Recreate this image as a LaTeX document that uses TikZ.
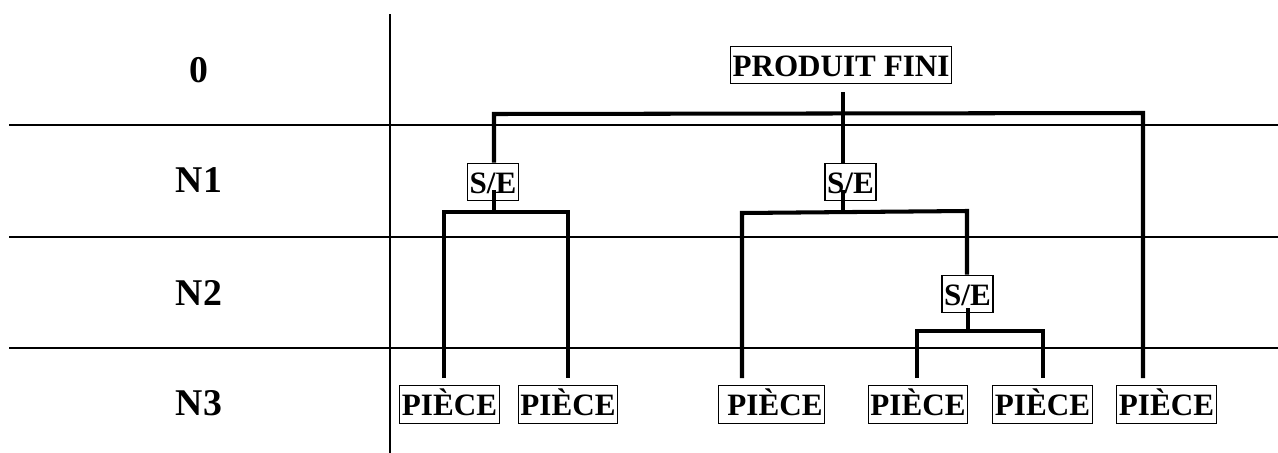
\documentclass[tikz,border=0pt]{standalone}
\usepackage{fontspec}
\setmainfont{Liberation Serif}
\begin{document}
\begin{tikzpicture}[x=0.02cm,y=-0.02cm]
\tikzset{
  box/.style={draw, line width=0.75pt, inner sep=0pt, inner xsep=1.3pt,
    text height=0.6cm, text depth=0.15cm,
    font=\fontsize{17.7}{20}\selectfont\bfseries},
  levellabel/.style={anchor=base, font=\fontsize{21.5}{24}\selectfont\bfseries},
  gridline/.style={line width=1.1pt},
  link/.style={line width=2.3pt, line join=miter},
}
\useasboundingbox (0,0) rectangle (1278,453);

% level table
\coordinate (vtop) at (390,14);
\coordinate (vbot) at (390,453);
\coordinate (r1a) at (9,125);  \coordinate (r1b) at (1278,125);
\coordinate (r2a) at (9,237);  \coordinate (r2b) at (1278,237);
\coordinate (r3a) at (9,348);  \coordinate (r3b) at (1278,348);
\draw[gridline] (vtop) -- (vbot);
\draw[gridline] (r1a) -- (r1b);
\draw[gridline] (r2a) -- (r2b);
\draw[gridline] (r3a) -- (r3b);

\node[levellabel] (l0) at (199,82) {0};
\node[levellabel] (l1) at (199,192) {N1};
\node[levellabel] (l2) at (199,305) {N2};
\node[levellabel] (l3) at (199,415) {N3};

% boxes
\node[box] (pf) at (841,65) {PRODUIT FINI};
\node[box] (se1) at (493,182) {S/E};
\node[box] (se2) at (850.5,182) {S/E};
\node[box] (se3) at (967.5,294) {S/E};
\node[box] (p1) at (449.5,404.5) {PIÈCE};
\node[box] (p2) at (568,404.5) {PIÈCE};
\node[box] (p3) at (771.5,404.5) {\hspace{0.14cm}PIÈCE};
\node[box] (p4) at (918,404.5) {PIÈCE};
\node[box] (p5) at (1042.5,404.5) {PIÈCE};
\node[box] (p6) at (1166.5,404.5) {PIÈCE};

% junction points of the tree
\coordinate (pfs) at (843,92);
\coordinate (ta) at (494,114);
\coordinate (tb) at (1143,113);
\coordinate (p6t) at (1143,378);

\coordinate (s1a) at (494,190);
\coordinate (s1b) at (494,212);
\coordinate (la) at (444,212);  \coordinate (lb) at (568,212);
\coordinate (p1t) at (444,378); \coordinate (p2t) at (568,378);

\coordinate (s2a) at (843,190);
\coordinate (s2b) at (843,212);
\coordinate (ma) at (742,213);  \coordinate (mb) at (967,211);
\coordinate (p3t) at (742,378);

\coordinate (s3a) at (968,308);
\coordinate (s3b) at (968,331);
\coordinate (na) at (917,331);  \coordinate (nb) at (1043,331);
\coordinate (p4t) at (917,378); \coordinate (p5t) at (1043,378);

% tree connectors
\draw[link] (pfs) -- (pfs |- se2.north);
\draw[link] (ta |- se1.north) -- (ta) -- (tb) -- (p6t);

\draw[link] (s1a) -- (s1b);
\draw[link] (p1t) -- (la) -- (lb) -- (p2t);

\draw[link] (s2a) -- (s2b);
\draw[link] (p3t) -- (ma) -- (mb) -- (mb |- se3.north);

\draw[link] (s3a) -- (s3b);
\draw[link] (p4t) -- (na) -- (nb) -- (p5t);
\end{tikzpicture}
\end{document}
